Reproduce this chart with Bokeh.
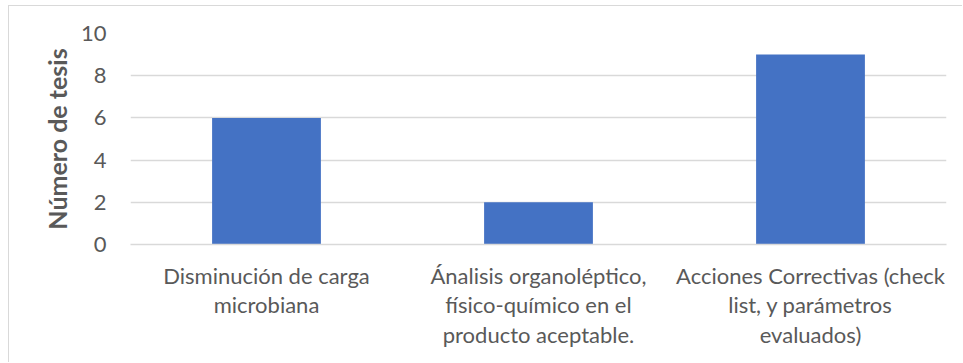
from bokeh.plotting import figure
from bokeh.models import FactorRange, Range1d, FixedTicker
from bokeh.embed import file_html
from bokeh.resources import INLINE

# Thesis counts per evaluation approach
categories = [
    "Disminución de carga\nmicrobiana",
    "Ánalisis organoléptico,\nfísico-químico en el\nproducto aceptable.",
    "Acciones Correctivas (check\nlist, y parámetros\nevaluados)",
]
counts = [6, 2, 9]
y_ticks = [0, 2, 4, 6, 8, 10]

TEXT = "#595959"
GRID = "#D9D9D9"
FONT = "Lato"

p = figure(
    width=954, height=357,
    x_range=FactorRange(*categories, range_padding=0),
    y_range=Range1d(0, 10),
    output_backend="svg", toolbar_location=None,
    min_border_left=121, min_border_right=17,
    min_border_top=27, min_border_bottom=119,
    margin=(5, 0, 0, 8),
    styles={"border-top": f"1px solid {GRID}", "border-left": f"1px solid {GRID}"},
)
p.outline_line_color = None
p.background_fill_color = "white"
p.border_fill_color = "white"

p.vbar(x=categories, top=counts, width=0.4, fill_color="#4472C4", line_color=None)

p.xgrid.grid_line_color = None
p.ygrid.grid_line_color = GRID
p.ygrid.grid_line_width = 1.3
p.yaxis.ticker = FixedTicker(ticks=y_ticks)

p.yaxis.axis_line_color = None
p.yaxis.major_tick_line_color = None
p.yaxis.minor_tick_line_color = None
p.yaxis.major_label_text_font = FONT
p.yaxis.major_label_text_font_size = "22px"
p.yaxis.major_label_text_color = TEXT
p.yaxis.major_label_standoff = 18
p.yaxis.axis_label = "Número de tesis"
p.yaxis.axis_label_text_font = FONT
p.yaxis.axis_label_text_font_style = "bold"
p.yaxis.axis_label_text_font_size = "25px"
p.yaxis.axis_label_text_color = TEXT
p.yaxis.axis_label_standoff = 6

p.xaxis.axis_line_color = GRID
p.xaxis.axis_line_width = 1.3
p.xaxis.major_tick_line_color = None
p.xaxis.minor_tick_line_color = None
p.xaxis.major_label_text_font = FONT
p.xaxis.major_label_text_font_size = "22px"
p.xaxis.major_label_text_color = TEXT
p.xaxis.major_label_standoff = 11
p.xaxis.major_label_text_line_height = 1.1

open("out.html", "w").write(file_html(p, INLINE))
